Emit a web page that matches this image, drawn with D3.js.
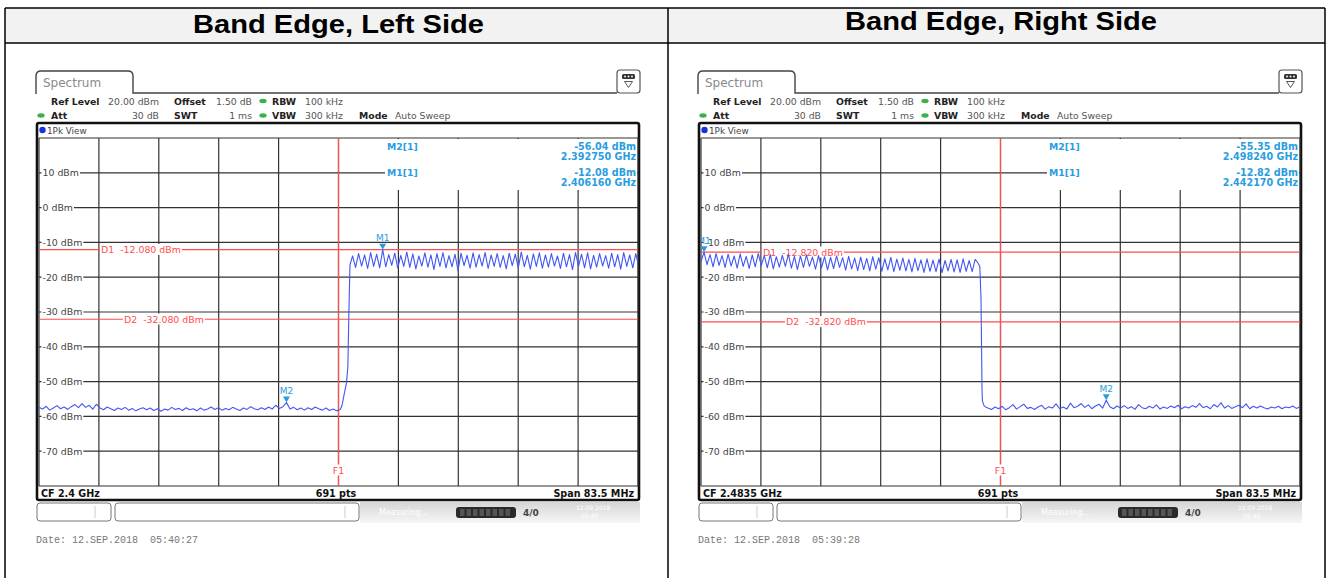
<!DOCTYPE html>
<html>
<head>
<meta charset="utf-8">
<script src="https://cdn.jsdelivr.net/npm/d3@7"></script>
<style>
  body { margin: 0; background: #fff; }
  svg { display: block; }
  text { font-family: "DejaVu Sans", Verdana, sans-serif; white-space: pre; }
</style>
</head>
<body>
<svg id="chart" width="1330" height="578"></svg>
<script>
// ---- data ----
const panelTitles = ["Band Edge, Left Side", "Band Edge, Right Side"];
const centerFreqs = [2.4, 2.4835];          // GHz
const spanGHz = 0.0835;
const levelRange = [-80, 20];               // dBm, bottom / ref level
const yTicks = [10, 0, -10, -20, -30, -40, -50, -60, -70];
const dates = ["Date: 12.SEP.2018  05:40:27", "Date: 12.SEP.2018  05:39:28"];

const leftDisplayLines = [{ name: "D1", dbm: -12.08, label: "D1  -12.080 dBm" }, { name: "D2", dbm: -32.08, label: "D2  -32.080 dBm" }];
const rightDisplayLines = [{ name: "D1", dbm: -12.82, label: "D1  -12.820 dBm" }, { name: "D2", dbm: -32.82, label: "D2  -32.820 dBm" }];

const leftMarkers = [
  { name: "M1", f: 2.40616, dbm: -12.08, freqText: "2.406160 GHz", levelText: "-12.08 dBm" },
  { name: "M2", f: 2.39275, dbm: -56.04, freqText: "2.392750 GHz", levelText: "-56.04 dBm" }
];
const rightMarkers = [
  { name: "M1", f: 2.44217, dbm: -12.82, freqText: "2.442170 GHz", levelText: "-12.82 dBm" },
  { name: "M2", f: 2.49824, dbm: -55.35, freqText: "2.498240 GHz", levelText: "-55.35 dBm" }
];

// left trace: noise floor, band edge rise, in-band ripple
const leftNoise = { start: 2.35825, step: 0.0005, values: [
  -57.4, -57.9, -57.1, -58.2, -57.6, -56.9, -57.8, -57.3, -58.0, -57.2,
  -56.6, -57.5, -56.3, -57.4, -56.8, -57.9, -56.5, -57.6, -58.1, -57.3,
  -57.8, -58.3, -57.6, -58.0, -57.4, -58.2, -57.7, -58.4, -57.9, -57.5,
  -58.1, -57.6, -58.3, -57.8, -58.5, -57.9, -58.2, -57.4, -58.0, -57.7,
  -58.3, -57.5, -58.1, -57.8, -58.4, -57.6, -58.2, -57.9, -57.3, -58.0,
  -57.5, -58.2, -57.7, -58.1, -57.4, -57.9, -58.3, -57.6, -58.0, -57.2,
  -57.8, -58.1, -57.5, -58.0, -57.3, -57.9, -56.8, -57.7, -57.2, -56.04,
  -57.9, -57.4, -58.1, -57.6, -58.2, -57.5, -58.0, -57.3, -57.8, -58.2,
  -57.6, -58.3, -57.9, -58.4, -58.0
]};
const leftEdge = [[2.4005, -56.8], [2.4008, -53.5], [2.4011, -50.5], [2.4013, -46], [2.40145, -30], [2.4016, -16.5]];
const leftHigh = { start: 2.40196, step: 0.00042, values: [
  -13.9, -17.2, -13.2, -16.8, -13.6, -17.5, -12.9, -16.9, -13.4, -17.3,
  -12.08, -17.0, -13.5, -16.6, -13.1, -17.4, -13.7, -16.9, -12.8, -17.2,
  -13.3, -17.6, -13.9, -16.8, -13.0, -17.1, -13.6, -17.8, -13.2, -16.9,
  -12.9, -17.3, -13.8, -17.0, -13.4, -18.1, -13.1, -16.7, -13.7, -17.4,
  -13.0, -17.1, -13.5, -16.8, -12.9, -17.5, -13.6, -16.9, -13.2, -17.2,
  -13.8, -17.6, -13.1, -16.7, -13.4, -17.3, -12.8, -17.0, -13.7, -17.7,
  -13.3, -16.9, -13.0, -17.4, -13.6, -17.1, -13.2, -16.8, -13.9, -17.5,
  -13.1, -17.0, -13.5, -17.8, -12.9, -16.9, -13.4, -17.3, -13.0, -17.6,
  -13.7, -17.1, -13.2, -16.8, -13.8, -17.4, -13.1, -17.0, -13.5, -17.7,
  -12.9, -16.9, -13.6, -17.3, -13.2, -17.0
]};

// right trace: in-band ripple, band edge drop, noise floor
const rightHigh = { start: 2.44175, step: 0.00042, values: [
  -15.6, -12.82, -16.4, -13.5, -17.0, -13.2, -16.6, -13.8, -17.2, -13.4,
  -16.8, -13.9, -17.4, -13.3, -16.9, -14.0, -17.5, -13.6, -17.0, -13.2,
  -16.7, -13.8, -17.3, -13.5, -17.6, -14.1, -17.1, -13.7, -16.9, -13.4,
  -17.4, -14.0, -17.8, -13.9, -17.2, -13.6, -16.9, -14.2, -17.7, -13.8,
  -17.3, -14.1, -17.9, -14.3, -17.5, -13.9, -17.2, -14.4, -18.0, -14.0,
  -17.6, -14.5, -18.1, -14.2, -17.8, -14.6, -18.2, -14.1, -17.7, -14.4,
  -18.3, -14.7, -17.9, -14.3, -18.4, -14.8, -18.0, -14.5, -18.2, -14.9,
  -18.5, -14.6, -18.1, -15.0, -18.6, -14.7, -18.3, -15.1, -18.4, -14.8,
  -18.7, -15.2, -18.2, -14.9, -18.5, -15.0, -18.6, -14.7, -18.3, -15.2,
  -18.4, -14.9, -16.0
]};
const rightEdge = [[2.48062, -17], [2.48078, -26], [2.48086, -40], [2.48092, -52], [2.48098, -55.6], [2.4812, -56.9], [2.4815, -57.4]];
const rightNoise = { start: 2.48174, step: 0.0005, values: [
  -57.6, -58.0, -57.3, -57.8, -57.1, -58.1, -57.5, -56.6, -57.9, -57.2,
  -56.5, -57.7, -57.4, -58.0, -57.3, -56.8, -57.9, -57.2, -57.6, -56.4,
  -57.8, -57.3, -57.9, -56.2, -57.5, -57.1, -56.3, -57.4, -56.7, -57.8,
  -57.0, -56.5, -57.6, -55.35, -57.2, -57.8, -57.0, -57.6, -56.9, -57.7,
  -57.2, -58.0, -56.6, -57.5, -57.8, -57.1, -57.6, -56.7, -57.9, -57.3,
  -57.7, -57.0, -57.5, -56.8, -57.8, -57.2, -57.6, -56.9, -57.4, -56.3,
  -57.5, -57.1, -57.8, -56.6, -57.3, -56.1, -57.6, -56.9, -57.7, -57.2,
  -56.8, -57.5, -56.4, -57.8, -57.1, -57.6, -57.0, -57.5, -57.9, -57.3,
  -57.6, -57.1, -57.8, -57.3, -57.5, -57.0, -57.7, -57.2, -57.5
]};

// ---- layout ----
const PW = 599, PT = 138, PB = 486;
const RED = "#ff4d4d", MARK = "#2a9de0", TRACE = "#4257f2", GRID = "#333";

const svg = d3.select("#chart");

// table around the two screenshots
svg.append("rect").attr("x", 5).attr("y", 8).attr("width", 1320).attr("height", 35).attr("fill", "#f2f2f2");
[[5, 8, 1325, 8], [5, 43, 1325, 43], [5, 8, 5, 578], [668, 8, 668, 578], [1325, 8, 1325, 578]].forEach(l => {
  svg.append("line").attr("x1", l[0]).attr("y1", l[1]).attr("x2", l[2]).attr("y2", l[3])
    .attr("stroke", "#000").attr("stroke-width", 1.5);
});
const titlePos = [{ cx: 338.5, y: 33, w: 291 }, { cx: 1001, y: 30, w: 312 }];
panelTitles.forEach((t, i) => {
  svg.append("text").attr("x", titlePos[i].cx).attr("y", titlePos[i].y)
    .attr("text-anchor", "middle")
    .attr("textLength", titlePos[i].w).attr("lengthAdjust", "spacingAndGlyphs")
    .style("font-family", "'Liberation Sans', Arial, sans-serif")
    .style("font-weight", "bold").style("font-size", "26px")
    .text(t);
});

function series(s) {
  return s.values.map((v, i) => ({ f: s.start + i * s.step, dbm: v }));
}
function pairs(a) {
  return a.map(d => ({ f: d[0], dbm: d[1] }));
}

function label(g, x, yBase, txt, opts) {
  const t = g.append("text").attr("x", x).attr("y", yBase)
    .style("font-size", (opts.size || 9.3) + "px")
    .attr("fill", opts.fill || "#222")
    .attr("text-anchor", opts.anchor || "start")
    .style("font-weight", opts.bold ? "bold" : "normal")
    .text(txt);
  if (opts.bg) {
    const b = t.node().getBBox();
    g.insert("rect", () => t.node())
      .attr("x", b.x - 1).attr("y", b.y).attr("width", b.width + 2).attr("height", b.height)
      .attr("fill", "#fff");
  }
  return t;
}

function drawPanel(idx, ox, trace, dLines, markers) {
  const cf = centerFreqs[idx];
  const g = svg.append("g").attr("transform", `translate(${ox},0)`);
  const x = d3.scaleLinear().domain([cf - spanGHz / 2, cf + spanGHz / 2]).range([0, PW]);
  const y = d3.scaleLinear().domain(levelRange).range([PB, PT]);

  // tab + header line + menu icon
  g.append("path").attr("d", "M-3,94 V76 Q-3,71 2,71 H89 Q94,71 94,76 V93 H578")
    .attr("fill", "none").attr("stroke", "#444").attr("stroke-width", 1.4);
  g.append("text").attr("x", 4).attr("y", 87).style("font-size", "12px").attr("fill", "#8a8a8a").text("Spectrum");
  g.append("rect").attr("x", 578).attr("y", 70).attr("width", 23).attr("height", 23).attr("rx", 3)
    .attr("fill", "#fff").attr("stroke", "#555").attr("stroke-width", 1.2);
  g.append("rect").attr("x", 583).attr("y", 74).attr("width", 13).attr("height", 5).attr("rx", 1.5).attr("fill", "#333");
  [586, 589.5, 593].forEach(cx => g.append("circle").attr("cx", cx).attr("cy", 76.5).attr("r", 0.9).attr("fill", "#fff"));
  g.append("path").attr("d", "M585.5,81.5 L593.5,81.5 L589.5,87.5 Z").attr("fill", "none").attr("stroke", "#444").attr("stroke-width", 0.9);

  // setting rows
  const row1 = 104.5, row2 = 119;
  label(g, 12, row1, "Ref Level", { bold: true });
  label(g, 120, row1, "20.00 dBm", { anchor: "end", fill: "#555" });
  label(g, 135, row1, "Offset", { bold: true });
  label(g, 213, row1, "1.50 dB", { anchor: "end", fill: "#555" });
  label(g, 233, row1, "RBW", { bold: true });
  label(g, 266, row1, "100 kHz", { fill: "#555" });
  label(g, 12, row2, "Att", { bold: true });
  label(g, 120, row2, "30 dB", { anchor: "end", fill: "#555" });
  label(g, 135, row2, "SWT", { bold: true });
  label(g, 213, row2, "1 ms", { anchor: "end", fill: "#555" });
  label(g, 233, row2, "VBW", { bold: true });
  label(g, 266, row2, "300 kHz", { fill: "#555" });
  label(g, 320, row2, "Mode", { bold: true });
  label(g, 356, row2, "Auto Sweep", { fill: "#555" });
  [[224, 101], [224, 115.5], [2, 115.5]].forEach(p => {
    g.append("ellipse").attr("cx", p[0]).attr("cy", p[1]).attr("rx", 3.6).attr("ry", 2.2).attr("fill", "#3cb04a");
  });

  // frame
  g.append("rect").attr("x", -2).attr("y", 123).attr("width", PW + 3).attr("height", 377).attr("rx", 2)
    .attr("fill", "#fff").attr("stroke", "#111").attr("stroke-width", 2.6);
  g.append("circle").attr("cx", 3.5).attr("cy", 130).attr("r", 3.2).attr("fill", "#1434d8");
  label(g, 8, 133.5, "1Pk View", { fill: "#444", size: 8.8 });

  // grid
  const fTicks = d3.range(11).map(i => x.domain()[0] + i * spanGHz / 10);
  g.append("g").selectAll("line").data(fTicks).join("line")
    .attr("x1", d => x(d)).attr("x2", d => x(d)).attr("y1", PT).attr("y2", PB)
    .attr("stroke", GRID).attr("stroke-width", 1.2);
  g.append("g").selectAll("line").data(yTicks.concat(levelRange)).join("line")
    .attr("x1", 0).attr("x2", PW).attr("y1", d => y(d)).attr("y2", d => y(d))
    .attr("stroke", GRID).attr("stroke-width", 1.2);

  // white area behind the marker table
  g.append("rect").attr("x", 346).attr("y", PT + 1).attr("width", PW - 347).attr("height", 51).attr("fill", "#fff");

  // level labels
  yTicks.forEach(v => label(g, 3.5, y(v) + 3.3, `${v} dBm`, { bg: true, fill: "#444", size: 9.4 }));

  // display lines and frequency line
  const dOffsets = [62, 85];
  dLines.forEach((d, i) => {
    g.append("line").attr("x1", 0).attr("x2", PW).attr("y1", y(d.dbm)).attr("y2", y(d.dbm))
      .attr("stroke", RED).attr("stroke-width", 1.2);
    label(g, dOffsets[i], y(d.dbm) + 3.3, d.label, { bg: true, fill: RED, size: 9.4 });
  });
  g.append("line").attr("x1", x(cf)).attr("x2", x(cf)).attr("y1", PT).attr("y2", PB)
    .attr("stroke", RED).attr("stroke-width", 1.2);
  label(g, x(cf), 473.5, "F1", { bg: true, fill: RED, anchor: "middle", size: 9.4 });

  // trace
  const clipId = "clip" + idx;
  g.append("clipPath").attr("id", clipId).append("rect").attr("x", 0).attr("y", PT).attr("width", PW).attr("height", PB - PT);
  const line = d3.line().x(d => x(d.f)).y(d => y(d.dbm));
  g.append("path").datum(trace).attr("clip-path", `url(#${clipId})`)
    .attr("d", line).attr("fill", "none").attr("stroke", TRACE).attr("stroke-width", 1.1).attr("stroke-linejoin", "round");

  // markers on trace
  const mg = g.append("g").attr("clip-path", `url(#${clipId})`);
  markers.forEach(m => {
    const mx = x(m.f), my = y(m.dbm);
    mg.append("path").attr("d", `M${mx - 3.5},${my - 6} L${mx + 3.5},${my - 6} L${mx},${my} Z`).attr("fill", MARK);
    mg.append("text").attr("x", mx).attr("y", my - 8.5).attr("text-anchor", "middle")
      .style("font-size", "9px").attr("fill", MARK).text(m.name);
  });

  // marker table
  const mRows = [[markers[1], 150, 159.5], [markers[0], 176, 186]];
  mRows.forEach(r => {
    label(g, 348, r[1], `${r[0].name}[1]`, { fill: MARK, bold: true, size: 9.3 });
    label(g, 597, r[1], r[0].levelText, { fill: MARK, bold: true, size: 9.6, anchor: "end" });
    label(g, 597, r[2], r[0].freqText, { fill: MARK, bold: true, size: 9.6, anchor: "end" });
  });

  // bottom bar
  label(g, 2, 497, `CF ${cf} GHz`, { bold: true, size: 9.6, fill: "#111" });
  label(g, 297, 497, "691 pts", { bold: true, size: 9.6, fill: "#111", anchor: "middle" });
  label(g, 595, 497, "Span 83.5 MHz", { bold: true, size: 9.6, fill: "#111", anchor: "end" });

  // status bar
  const grad = svg.append("defs").append("linearGradient").attr("id", "sb" + idx).attr("x1", 0).attr("y1", 0).attr("x2", 0).attr("y2", 1);
  grad.append("stop").attr("offset", 0).attr("stop-color", "#d6d6d6");
  grad.append("stop").attr("offset", 1).attr("stop-color", "#f6f6f6");
  g.append("rect").attr("x", 321).attr("y", 502).attr("width", 280).attr("height", 21).attr("fill", `url(#sb${idx})`);
  g.append("rect").attr("x", -2).attr("y", 503).attr("width", 74).attr("height", 18).attr("rx", 3)
    .attr("fill", "#fff").attr("stroke", "#777");
  g.append("rect").attr("x", 76).attr("y", 503).attr("width", 244).attr("height", 18).attr("rx", 3)
    .attr("fill", "#fff").attr("stroke", "#777");
  g.append("line").attr("x1", 56).attr("x2", 56).attr("y1", 506).attr("y2", 518).attr("stroke", "#ccc");
  g.append("line").attr("x1", 306).attr("x2", 306).attr("y1", 506).attr("y2", 518).attr("stroke", "#ccc");
  g.append("text").attr("x", 340).attr("y", 515).style("font-size", "8px").attr("fill", "#fff").text("Measuring...");
  g.append("rect").attr("x", 417).attr("y", 507).attr("width", 60).attr("height", 11).attr("rx", 3).attr("fill", "#2a2a2a");
  d3.range(8).forEach(i => g.append("rect").attr("x", 421 + i * 6.5).attr("y", 509).attr("width", 4.5).attr("height", 7).attr("fill", "#555"));
  g.append("text").attr("x", 484).attr("y", 516).style("font-size", "9px").style("font-weight", "bold").attr("fill", "#444").text("4/0");
  g.append("text").attr("x", 537).attr("y", 510).style("font-size", "6px").attr("fill", "#fff").text("12.09.2018");
  g.append("text").attr("x", 542).attr("y", 518).style("font-size", "6px").attr("fill", "#fff").text("05:40");

  // date line
  g.append("text").attr("x", -3).attr("y", 543).style("font-family", "'Liberation Mono', monospace")
    .style("font-size", "10px").attr("fill", "#777").text(dates[idx]);
}

const leftTrace = series(leftNoise).concat(pairs(leftEdge), series(leftHigh));
const rightTrace = series(rightHigh).concat(pairs(rightEdge), series(rightNoise));

drawPanel(0, 39, leftTrace, leftDisplayLines, leftMarkers);
drawPanel(1, 701, rightTrace, rightDisplayLines, rightMarkers);
</script>
</body>
</html>
